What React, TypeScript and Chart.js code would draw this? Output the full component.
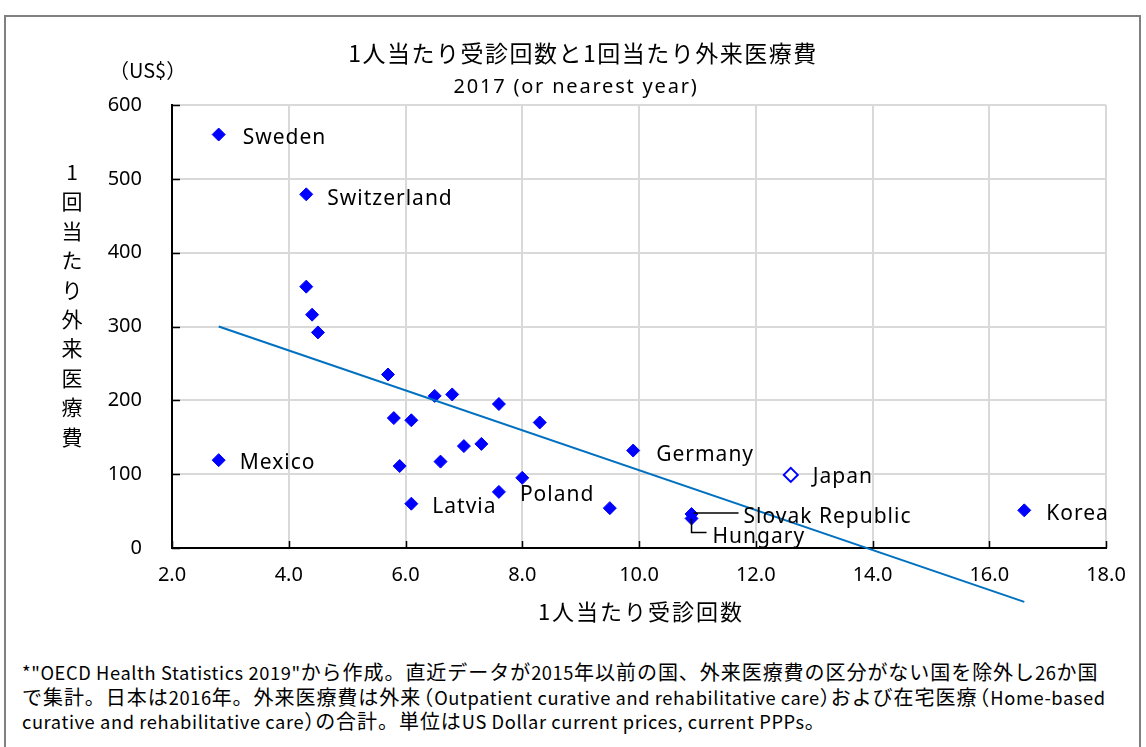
import React, { useEffect, useRef } from "react";
import { Chart, registerables } from "chart.js";

Chart.register(...registerables);

// ---- data ----
const countryNames = [
  "Sweden", "Switzerland", "", "", "", "", "", "", "", "", "", "", "", "", "", "",
  "Mexico", "", "Poland", "Latvia", "", "Germany", "Slovak Republic", "Hungary", "Korea",
];
const visitsPerCapita = [
  2.8, 4.3, 4.3, 4.4, 4.5, 5.7, 6.5, 6.8, 7.6, 8.3, 5.8, 6.1, 7.0, 7.3, 6.6, 5.9,
  2.8, 8.0, 7.6, 6.1, 9.5, 9.9, 10.9, 10.9, 16.6,
];
const costPerVisit = [
  560, 479, 354, 316, 292, 235, 206, 208, 195, 170, 176, 173, 138, 141, 117, 111,
  119, 95, 76, 60, 54, 132, 46, 40, 51,
];
const japanName = "Japan";
const japanVisits = [12.6];
const japanCost = [99];
const trendVisits = [2.8, 16.6];
const trendCost = [300, -73];

const xMin = 2, xMax = 18, xStep = 2;
const yMin = 0, yMax = 600, yStep = 100;

const titleText = "1人当たり受診回数と1回当たり外来医療費";
const subtitleText = "2017 (or nearest year)";
const yUnitText = "（US$）";
const yTitleText = "1回当たり外来医療費";
const xTitleText = "1人当たり受診回数";
const footnoteLines = [
  "*\"OECD Health Statistics 2019\"から作成。直近データが2015年以前の国、外来医療費の区分がない国を除外し26か国",
  "で集計。日本は2016年。外来医療費は外来（Outpatient curative and rehabilitative care）および在宅医療（Home-based",
  "curative and rehabilitative care）の合計。単位はUS Dollar current prices, current PPPs。",
];

// ---- styles ----
const JP = '"Noto Sans CJK JP"';
const LAT = '"Noto Sans", "Noto Sans CJK JP"';
const labelOffsets: Record<string, [number, number]> = {
  Sweden: [24, 3],
  Switzerland: [21, 5],
  Mexico: [21, 3],
  Latvia: [21, 3],
  Poland: [21, 3],
  Germany: [23, 4],
  Japan: [22, 2],
  Korea: [22, 4],
};

const annotPlugin = {
  id: "annot",
  afterDatasetsDraw(chart: any) {
    const ctx = chart.ctx as CanvasRenderingContext2D;
    const xs = chart.scales.x;
    const ys = chart.scales.y;
    const area = chart.chartArea;
    ctx.save();
    // inner tick marks
    ctx.strokeStyle = "#000";
    ctx.lineWidth = 1.5;
    ctx.beginPath();
    for (let v = yMin; v <= yMax; v += yStep) {
      const py = Math.round(ys.getPixelForValue(v)) + 0.5;
      ctx.moveTo(area.left, py);
      ctx.lineTo(area.left + 8, py);
    }
    for (let v = xMin; v <= xMax; v += xStep) {
      const px = Math.round(xs.getPixelForValue(v)) + 0.5;
      ctx.moveTo(px, area.bottom);
      ctx.lineTo(px, area.bottom - 7);
    }
    ctx.stroke();

    // country labels
    ctx.fillStyle = "#000";
    ctx.textBaseline = "middle";
    ctx.textAlign = "left";
    ctx.font = `21px ${LAT}`;
    (ctx as any).letterSpacing = "1px";
    const all = countryNames.map((n, i) => ({ n, x: visitsPerCapita[i], y: costPerVisit[i] }));
    all.push({ n: japanName, x: japanVisits[0], y: japanCost[0] });
    for (const p of all) {
      if (!p.n) continue;
      const px = xs.getPixelForValue(p.x);
      const py = ys.getPixelForValue(p.y);
      if (p.n === "Slovak Republic") {
        ctx.beginPath();
        ctx.lineWidth = 1.5;
        ctx.moveTo(px + 2, py - 1);
        ctx.lineTo(px + 47, py - 1);
        ctx.stroke();
        ctx.fillText(p.n, px + 52, py + 3);
      } else if (p.n === "Hungary") {
        ctx.beginPath();
        ctx.lineWidth = 1.5;
        ctx.moveTo(px, py);
        ctx.lineTo(px, py + 14);
        ctx.lineTo(px + 15, py + 14);
        ctx.stroke();
        ctx.fillText(p.n, px + 21, py + 19);
      } else {
        const off = labelOffsets[p.n] || [22, 3];
        ctx.fillText(p.n, px + off[0], py + off[1]);
      }
    }

    // titles
    ctx.textAlign = "center";
    ctx.font = `23px ${JP}`;
    (ctx as any).letterSpacing = "1.5px";
    ctx.fillText(titleText, 583, 53);
    ctx.font = `20px ${LAT}`;
    (ctx as any).letterSpacing = "1.8px";
    ctx.fillText(subtitleText, 576, 87);
    (ctx as any).letterSpacing = "0px";

    // unit
    ctx.textAlign = "left";
    ctx.font = `20px ${JP}`;
    ctx.fillText(yUnitText, 109, 70);

    // y title (stacked)
    ctx.textAlign = "center";
    ctx.font = `21px ${JP}`;
    const chars = Array.from(yTitleText);
    chars.forEach((c, i) => ctx.fillText(c, 72, 172 + i * 29.4));

    // x title
    ctx.font = `22px ${JP}`;
    (ctx as any).letterSpacing = "2px";
    ctx.fillText(xTitleText, 641, 612);
    (ctx as any).letterSpacing = "0px";
    ctx.restore();
  },
};

const SPLIT_RE = /([（）]|[\u3000-\u30ff\u3400-\u9fff\uff01-\uff07\uff0a-\uffef]+)/;
const CJK_RE = /^[\u3000-\u30ff\u3400-\u9fff\uff01-\uff07\uff0a-\uffef]+$/;

function FootLine({ text }: { text: string }) {
  const parts = text.split(SPLIT_RE).filter((s) => s && s.length > 0);
  return (
    <div style={{ height: 24.5, whiteSpace: "nowrap" }}>
      {parts.map((s, i) => {
        if (s === "（")
          return (
            <span key={i} style={{ fontSize: 20, letterSpacing: "1px", marginLeft: -8 }}>{s}</span>
          );
        if (s === "）")
          return (
            <span key={i} style={{ fontSize: 20, letterSpacing: "1px", fontFeatureSettings: '"halt"' }}>{s}</span>
          );
        if (CJK_RE.test(s))
          return (
            <span key={i} style={{ fontSize: 20, letterSpacing: "0.95px" }}>{s}</span>
          );
        return (
          <span key={i} style={{ fontSize: 18.3, letterSpacing: "0.6px" }}>{s}</span>
        );
      })}
    </div>
  );
}

export default function App() {
  const ref = useRef<HTMLCanvasElement | null>(null);
  useEffect(() => {
    if (!ref.current) return;
    const mainPts = visitsPerCapita.map((x, i) => ({ x, y: costPerVisit[i] }));
    const japanPts = japanVisits.map((x, i) => ({ x, y: japanCost[i] }));
    const trendPts = trendVisits.map((x, i) => ({ x, y: trendCost[i] }));
    const chart = new Chart(ref.current, {
      type: "scatter",
      data: {
        datasets: [
          {
            label: "trend",
            data: trendPts,
            showLine: true,
            borderColor: "#0070C0",
            borderWidth: 2,
            pointRadius: 0,
            clip: false as any,
            order: 0,
          } as any,
          {
            label: "countries",
            data: mainPts,
            pointStyle: "rectRot",
            pointRadius: 6.5,
            backgroundColor: "#0000FF",
            borderColor: "#0000FF",
            borderWidth: 1,
            order: 1,
          },
          {
            label: japanName,
            data: japanPts,
            pointStyle: "rectRot",
            pointRadius: 7,
            backgroundColor: "#FFFFFF",
            borderColor: "#0000FF",
            borderWidth: 2,
            order: 1,
          },
        ],
      },
      options: {
        responsive: false,
        animation: false,
        layout: { padding: { top: 105, left: 0, right: 40, bottom: 32 } },
        plugins: { legend: { display: false }, tooltip: { enabled: false }, title: { display: false } },
        scales: {
          x: {
            type: "linear",
            min: xMin,
            max: xMax,
            ticks: {
              stepSize: xStep,
              color: "#000",
              padding: 15,
              font: { family: LAT, size: 20 },
              callback: (v: any) => Number(v).toFixed(1),
            },
            grid: { color: "#D9D9D9", lineWidth: 2, drawTicks: false },
            border: { color: "#000", width: 2 },
            afterFit: (s: any) => {
              s.height = 60;
              s.paddingLeft = 0;
              s.paddingRight = 0;
            },
          },
          y: {
            type: "linear",
            min: yMin,
            max: yMax,
            ticks: {
              stepSize: yStep,
              color: "#000",
              padding: 30,
              font: { family: LAT, size: 20 },
            },
            grid: { color: "#D9D9D9", lineWidth: 2, drawTicks: false },
            border: { color: "#000", width: 2 },
            afterFit: (s: any) => {
              s.width = 172;
              s.paddingTop = 0;
              s.paddingBottom = 0;
            },
          },
        },
      },
      plugins: [annotPlugin],
    });
    return () => chart.destroy();
  }, []);

  return (
    <div style={{ position: "absolute", left: 0, top: 0, width: 1146, height: 747, overflow: "hidden", background: "#fff" }}>
      <div
        style={{
          position: "absolute",
          left: 4,
          top: 15,
          width: 1137,
          height: 800,
          border: "2px solid #808080",
          boxSizing: "border-box",
        }}
      />
      <canvas ref={ref} width={1146} height={640} style={{ position: "absolute", left: 0, top: 0, width: 1146, height: 640 }} />
      <div
        style={{
          position: "absolute",
          left: 22,
          top: 660,
          fontFamily: JP,
          lineHeight: "24.5px",
          color: "#000",
        }}
      >
        {footnoteLines.map((l, i) => (
          <FootLine key={i} text={l} />
        ))}
      </div>
    </div>
  );
}
